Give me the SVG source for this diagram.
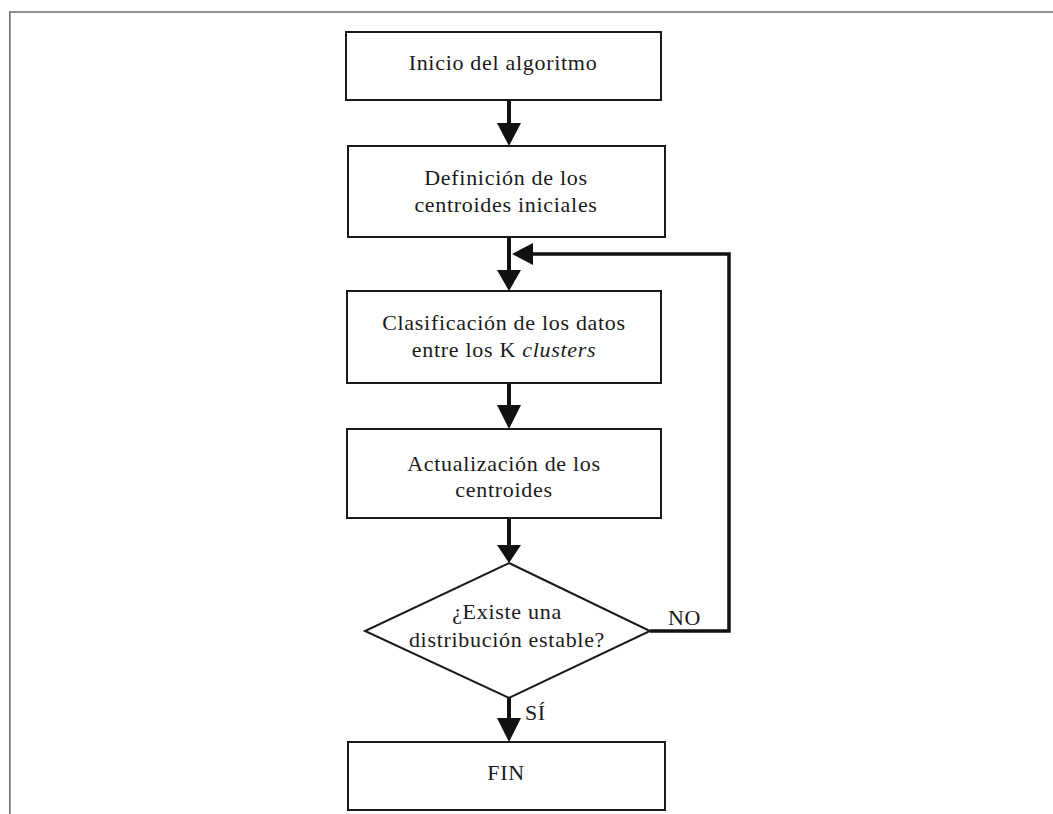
<svg xmlns="http://www.w3.org/2000/svg" width="1053" height="814" viewBox="0 0 1053 814">
  <style>
    .frame { fill: none; stroke: #6b6b6b; stroke-width: 1.6; }
    .box { fill: #ffffff; stroke: #1a1a1a; stroke-width: 2; }
    .lbl { font-family: "Liberation Serif", "Times New Roman", serif; font-size: 22px; letter-spacing: 0.7px; fill: #1a1a1a; text-anchor: middle; }
    .tag { font-family: "Liberation Serif", "Times New Roman", serif; font-size: 22px; letter-spacing: 0.5px; fill: #1a1a1a; }
    .wire { fill: none; stroke: #111111; stroke-width: 4; }
    .head { fill: #111111; }
  </style>
  <rect width="1053" height="814" fill="#ffffff"/>
  <!-- outer frame (open at right and bottom) -->
  <path class="frame" d="M9.8,814 V12 H1053"/>

  <g id="connectors">
    <!-- main vertical flow -->
    <line class="wire" x1="509" y1="100" x2="509" y2="126"/>
    <polygon class="head" points="497,123 521,123 509,146"/>
    <line class="wire" x1="509" y1="237" x2="509" y2="273"/>
    <polygon class="head" points="497,270 521,270 509,291"/>
    <line class="wire" x1="509" y1="383" x2="509" y2="408"/>
    <polygon class="head" points="497,405 521,405 509,429"/>
    <line class="wire" x1="509" y1="518" x2="509" y2="548"/>
    <polygon class="head" points="497,545 521,545 509,563"/>
    <line class="wire" x1="509" y1="698" x2="509" y2="721"/>
    <polygon class="head" points="497,718 521,718 509,742"/>
    <!-- feedback loop (NO branch) -->
    <path class="wire" style="stroke-width:3.5" d="M650,631 H729 V254 H530"/>
    <polygon class="head" points="512,254 533,243 533,265"/>
    <text class="tag" x="668" y="625">NO</text>
    <text class="tag" x="525" y="720">SÍ</text>
  </g>

  <g id="inicio">
    <rect class="box" x="346" y="32" width="315" height="68"/>
    <text class="lbl" x="503" y="70">Inicio del algoritmo</text>
  </g>

  <g id="definicion">
    <rect class="box" x="348" y="146" width="317" height="91"/>
    <text class="lbl" x="506" y="185">Definición de los</text>
    <text class="lbl" x="506" y="212">centroides iniciales</text>
  </g>

  <g id="clasificacion">
    <rect class="box" x="347" y="291" width="314" height="92"/>
    <text class="lbl" x="504" y="330">Clasificación de los datos</text>
    <text class="lbl" x="504" y="357">entre los K <tspan font-style="italic">clusters</tspan></text>
  </g>

  <g id="actualizacion">
    <rect class="box" x="347" y="429" width="314" height="89"/>
    <text class="lbl" x="504" y="471">Actualización de los</text>
    <text class="lbl" x="504" y="497">centroides</text>
  </g>

  <g id="decision">
    <polygon class="box" points="509,563 650,631 509,698 365,631"/>
    <text class="lbl" x="507" y="619">¿Existe una</text>
    <text class="lbl" x="507" y="647">distribución estable?</text>
  </g>

  <g id="fin">
    <rect class="box" x="348" y="742" width="317" height="68"/>
    <text class="lbl" x="506" y="780">FIN</text>
  </g>
</svg>
